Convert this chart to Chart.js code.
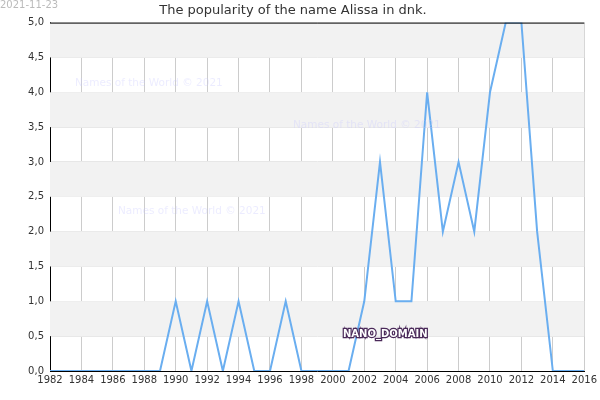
<!DOCTYPE html>
<html>
<head>
<meta charset="utf-8">
<script src="https://cdn.jsdelivr.net/npm/chart.js@4"></script>
<style>body{margin:0;background:#fff}#wrap{width:600px;height:400px}</style>
</head>
<body>
<div id="wrap"><canvas id="c"></canvas></div>
<script>
const years = [];
for (let y = 1982; y <= 2016; y++) years.push(y);
const values = [0,0,0,0,0,0,0,0,1,0,1,0,1,0,0,1,0,0,0,0,1,3,1,1,4,2,3,2,4,5,5,2,0,0,0];
const yTicks = [0,0.5,1,1.5,2,2.5,3,3.5,4,4.5,5];

const decor = {
    id: "decor",
    beforeDatasetsDraw(chart) {
        const {ctx, chartArea: a, scales: {y}} = chart;
        ctx.save();
        ctx.fillStyle = "#f2f2f2";
        for (let v = 0; v < 5; v += 1) {
            const t = y.getPixelForValue(v + 1), b = y.getPixelForValue(v + 0.5);
            ctx.fillRect(a.left, t, a.right - a.left, b - t);
        }
        ctx.restore();
    },
    afterDraw(chart) {
        const {ctx, chartArea: a} = chart;
        ctx.save();
        ctx.strokeStyle = "#000";
        ctx.lineWidth = 1;
        ctx.beginPath();
        ctx.moveTo(a.left, a.top + 0.5);
        ctx.lineTo(a.right, a.top + 0.5);
        ctx.stroke();
        ctx.font = "10px DejaVu Sans";
        ctx.fillStyle = "#bbb";
        ctx.fillText("2021-11-23", 0, 8);
        ctx.font = "10.5px DejaVu Sans";
        ctx.fillStyle = "rgba(200,200,255,0.35)";
        ctx.fillText("Names of the World © 2021", 75, 86);
        ctx.fillText("Names of the World © 2021", 293, 128);
        ctx.fillText("Names of the World © 2021", 118, 214);
        ctx.font = "bold 10px DejaVu Sans";
        ctx.lineWidth = 2.5;
        ctx.strokeStyle = "#4b2a5a";
        ctx.strokeText("NANO_DOMAIN", 343, 337);
        ctx.fillStyle = "#fff";
        ctx.fillText("NANO_DOMAIN", 343, 337);
        ctx.restore();
    }
};

new Chart(document.getElementById("c"), {
    type: "line",
    data: {
        labels: years,
        datasets: [{
            data: values,
            borderColor: "#6aaef0",
            borderWidth: 2,
            pointRadius: 0,
            tension: 0,
            fill: false
        }]
    },
    plugins: [decor],
    options: {
        responsive: true,
        maintainAspectRatio: false,
        animation: false,
        layout: {padding: {right: 14, top: 3, bottom: 11}},
        plugins: {
            legend: {display: false},
            tooltip: {enabled: false},
            title: {
                display: true,
                text: "The popularity of the name Alissa in dnk.",
                color: "#333",
                font: {family: "DejaVu Sans", size: 13, weight: "normal"},
                padding: {top: 0, bottom: 4}
            }
        },
        scales: {
            x: {
                type: "linear",
                min: 1982, max: 2016,
                afterBuildTicks(s) { s.ticks = years.filter(v => v % 2 === 0).map(v => ({value: v})); },
                ticks: {color: "#333", font: {family: "DejaVu Sans", size: 10}, maxRotation: 0,
                    autoSkip: false, callback: v => String(v)},
                grid: {color: "#ccc", drawTicks: false},
                border: {color: "#000"}
            },
            y: {
                min: 0, max: 5,
                afterFit(s) { s.width = 50; },
                afterBuildTicks(s) { s.ticks = yTicks.map(v => ({value: v})); },
                ticks: {color: "#333", font: {family: "DejaVu Sans", size: 10}, padding: 6,
                    callback: v => v.toFixed(1).replace(".", ",")},
                grid: {color: "#e6e6e6", drawTicks: false},
                border: {color: "#000"}
            }
        }
    }
});
</script>
</body>
</html>
